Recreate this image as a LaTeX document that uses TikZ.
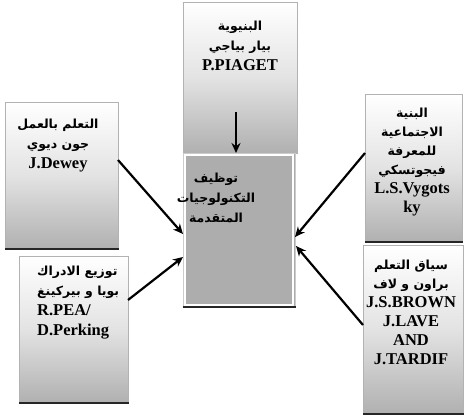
\documentclass[tikz,border=0pt]{standalone}
\usepackage{fontspec}
\setmainfont{Liberation Serif}
\newfontfamily\arabicfont[Script=Arabic]{DejaVu Sans}
\TeXXeTstate=1
\usetikzlibrary{arrows.meta,calc}
\newcommand{\artxt}[1]{{\arabicfont\bfseries\fontsize{12.5}{20}\selectfont\beginR #1\endR}}
\tikzset{
  panel/.style={draw=gray!60, line width=0.5pt, top color=white, bottom color=gray!62, middle color=gray!22,
    inner sep=0pt},
  corebox/.style={draw=gray!40, line width=0.6pt, fill=gray!64, inner sep=0pt},
  shadowline/.style={line width=2.2pt, black!85},
  label/.style={font=\bfseries\fontsize{16.5}{20}\selectfont, align=center, inner sep=0pt},
  link/.style={line width=2.2pt, -{Stealth[length=10pt,width=9pt]}}
}
\begin{document}
\begin{tikzpicture}[x=1pt,y=-1pt]
\useasboundingbox (0,0) rectangle (465,418);
% panels
\node[panel, minimum width=114pt, minimum height=151pt] (top) at (240,77.5) {};
\node[panel, minimum width=113pt, minimum height=147pt] (ul) at (61.5,175.5) {};
\node[panel, minimum width=109pt, minimum height=147pt] (ll) at (73.5,329.5) {};
\node[panel, minimum width=97pt, minimum height=148pt] (ur) at (413.5,168) {};
\node[panel, minimum width=100pt, minimum height=169pt] (lr) at (413,329.5) {};
\foreach \p in {ul,ll,ur,lr}
  \draw[shadowline] ($(\p.south west)+(0,0)$) -- ($(\p.south east)+(1,0)$);
\node[corebox, minimum width=112pt, minimum height=154pt] (core) at (239,230) {};
\draw[white, line width=2.5pt] ($(core.south west)+(2.5,-2.5)$) rectangle ($(core.north east)+(-2.5,2.5)$);
\draw[shadowline] (core.south west) -- ($(core.south east)+(1,0)$);
% texts
\node[label] (toptxt) at (240,46) {\artxt{البنيوية}\\ \artxt{بيار بياجي}\\ P.PIAGET};
\node[label] (ultxt) at (58,146) {\artxt{التعلم بالعمل}\\ \artxt{جون ديوي}\\ J.Dewey};
\node[label, align=left, anchor=west] (lltxt) at (37,303) {\artxt{توزيع الادراك}\\ \artxt{بويا و بيركينغ}\\ R.PEA/\\ D.Perking};
\node[label, font=\bfseries\fontsize{16.5}{19}\selectfont] (urtxt) at (412,162) {\artxt{البنية}\\ \artxt{الاجتماعية}\\ \artxt{للمعرفة}\\ \artxt{فيجوتسكي}\\ L.S.Vygots\\ ky};
\node[label, font=\bfseries\fontsize{16.5}{19}\selectfont] (lrtxt) at (411,312) {\artxt{سياق التعلم}\\ \artxt{براون و لاف}\\ J.S.BROWN\\ J.LAVE\\ AND\\ J.TARDIF};
\node[label] (coretxt) at (216,198) {\artxt{توظيف}\\ \artxt{التكنولوجيات}\\ \artxt{المتقدمة}};
% connectors
\coordinate (tops) at (236,112);
\coordinate (ules) at (118,160);
\coordinate (lles) at (128,300);
\coordinate (ures) at (365,153);
\coordinate (lres) at (363,325);
\coordinate (cin1) at (236,153);
\coordinate (cin2) at (183,234);
\coordinate (cin3) at (183,257);
\coordinate (cin4) at (295,237);
\coordinate (cin5) at (296,246);
\draw[link] (tops) -- (cin1);
\draw[link] (ules) -- (cin2);
\draw[link] (lles) -- (cin3);
\draw[link] (ures) -- (cin4);
\draw[link] (lres) -- (cin5);
\end{tikzpicture}
\end{document}
